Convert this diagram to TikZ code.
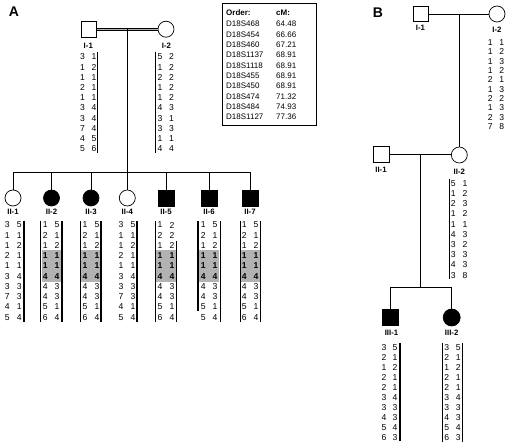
\documentclass[tikz,border=0pt]{standalone}
\usepackage{fontspec}
\setmainfont{Liberation Sans}
\usetikzlibrary{calc}
\definecolor{hapgray}{RGB}{178,178,178}
\tikzset{
  hap/.style={inner sep=0pt, font=\fontsize{8.6}{9}\selectfont, anchor=center},
  leg/.style={inner sep=0pt, font=\fontsize{8}{8}\selectfont, anchor=west},
  lbl/.style={inner sep=0pt, font=\fontsize{7.8}{8}\selectfont\bfseries},
  panel/.style={inner sep=0pt, font=\fontsize{14}{14}\selectfont\bfseries},
  sq/.style={draw, rectangle, minimum size=16pt, inner sep=0pt, line width=0.7pt, fill=white},
  ci/.style={draw, circle, minimum size=16pt, inner sep=0pt, line width=0.7pt, fill=white},
  aff/.style={fill=black},
  ped/.style={line width=0.7pt},
  hbar/.style={line width=1.1pt},
  shade/.style={fill=hapgray, draw=none},
}
\newcommand{\hapset}[7]{%
  \foreach \a/\b [count=\i] in {#7} {
    \node[hap] (#1-\i-a) at ({#2-#3},{#4+(\i-1)*#5}) {\ifnum#6=1 \ifnum\i>3 \ifnum\i<7 \bfseries\fi\fi\fi\a};
    \node[hap] (#1-\i-b) at ({#2+#3},{#4+(\i-1)*#5}) {\ifnum#6=1 \ifnum\i>3 \ifnum\i<7 \bfseries\fi\fi\fi\b};
  }}
\begin{document}
\begin{tikzpicture}[x=1pt,y=-1pt]
\useasboundingbox (0,0) rectangle (509,446);
% ================= Panel A =================
\node[panel] (labA) at (14,12) {A};
\node[sq, minimum size=15.5pt] (AI1) at (89,29.5) {};
\node[ci] (AI2) at (166,29.2) {};
\node[lbl] (AI1l) at (88.3,45.5) {I-1};
\node[lbl] (AI2l) at (166.5,45.5) {I-2};
\fill[gray!60] (AI1.east |- 0,28.4) rectangle (AI2.west |- 0,30.4);
\draw[line width=0.6pt] ([yshift=1.1pt]AI1.east) -- ([yshift=1.1pt]AI1.east -| AI2.west);
\draw[line width=0.6pt] ([yshift=-1.1pt]AI1.east) -- ([yshift=-1.1pt]AI1.east -| AI2.west);
\coordinate (mA) at (127.3,29.5);
\coordinate (sA) at (127.3,172);
\draw[ped] (mA) -- (sA);
% parents haplotypes
\hapset{hI1}{88.3}{5.7}{57}{10.2}{0}{3/1,1/2,1/1,2/1,1/1,3/4,3/4,7/4,4/5,5/6}
\draw[hbar] (97.7,52) -- (97.7,153);
\hapset{hI2}{165.8}{5.8}{57}{10.2}{0}{5/2,1/2,2/2,1/2,1/2,4/3,3/1,3/3,1/1,4/4}
\draw[hbar] (155.5,52) -- (155.5,153);
% legend box
\draw[line width=0.7pt] (222,3) rectangle (316,125);
\node[leg, font=\fontsize{8}{8}\selectfont\bfseries] (lord) at (226,13) {Order:};
\node[leg, font=\fontsize{8}{8}\selectfont\bfseries] (lcm) at (276,13) {cM:};
\foreach \n/\v [count=\i] in {D18S468/64.48,D18S454/66.66,D18S460/67.21,D18S1137/68.91,D18S1118/68.91,D18S455/68.91,D18S450/68.91,D18S474/71.32,D18S484/74.93,D18S1127/77.36} {
  \node[leg] (ln\i) at (226,{24+(\i-1)*10.33}) {\n};
  \node[leg] (lv\i) at (276,{24+(\i-1)*10.33}) {\v};
}
% generation II symbols
\node[ci] (AII1) at (13,198) {};
\node[ci, aff] (AII2) at (51.5,198) {};
\node[ci, aff] (AII3) at (91,198) {};
\node[ci] (AII4) at (127.3,198) {};
\node[sq, aff] (AII5) at (166,198) {};
\node[sq, aff] (AII6) at (209,198) {};
\node[sq, aff] (AII7) at (250,198) {};
\draw[ped] (sA -| AII1) -- (sA -| AII7);
\foreach \k in {1,...,7} { \draw[ped] (sA -| AII\k) -- (AII\k.north); }
\foreach \k/\x in {1/13,2/51.5,3/91,4/127.3,5/166,6/209,7/250} {
  \node[lbl] (AII\k l) at (\x,212) {II-\k};
}
% shading
\foreach \x in {51.5,91,166,209,250} { \fill[shade] ({\x-9.6},250.5) rectangle ({\x+9.6},282); }
% haplotypes generation II
\hapset{hII1}{13.3}{6}{225}{10.25}{0}{3/5,1/1,1/2,2/1,1/1,3/4,3/3,7/3,4/1,5/4}
\draw[hbar] (24,221) -- (24,322);
\hapset{hII2}{51.2}{5.9}{225}{10.25}{1}{1/5,2/1,1/2,1/1,1/1,4/4,4/3,4/3,5/1,6/4}
\draw[hbar] (40.7,221) -- (40.7,322);
\draw[hbar] (62,221) -- (62,322);
\hapset{hII3}{91}{5.9}{225}{10.25}{1}{1/5,2/1,1/2,1/1,1/1,4/4,4/3,4/3,5/1,6/4}
\draw[hbar] (80.7,221) -- (80.7,322);
\draw[hbar] (101,221) -- (101,322);
\hapset{hII4}{127}{6}{225}{10.25}{0}{3/5,1/1,1/2,2/1,1/1,3/4,3/3,7/3,4/1,5/4}
\draw[hbar] (137,221) -- (137,322);
\hapset{hII5}{166}{5.9}{225}{10.25}{1}{1/2,2/2,1/2,1/1,1/1,4/4,4/3,4/3,5/1,6/4}
\draw[hbar] (155.5,221) -- (155.5,322);
\draw[hbar] (176.5,241) -- (176.5,322);
\hapset{hII6}{209.2}{5.9}{225}{10.25}{1}{1/5,2/1,1/2,1/1,1/1,4/4,4/3,4/3,5/1,5/4}
\draw[hbar] (198,221) -- (198,311);
\draw[hbar] (220.3,221) -- (220.3,322);
\hapset{hII7}{250.2}{5.9}{225}{10.25}{1}{1/5,2/1,1/2,1/1,1/1,4/4,4/3,4/3,5/1,6/4}
\draw[hbar] (240.5,221) -- (240.5,322);
\draw[hbar] (260.7,221) -- (260.7,322);
% ================= Panel B =================
\node[panel] (labB) at (378,13) {B};
\node[sq, minimum size=15pt] (BI1) at (420.5,14) {};
\node[ci] (BI2) at (497,14) {};
\node[lbl] (BI1l) at (420.5,27.5) {I-1};
\node[lbl] (BI2l) at (497,30) {I-2};
\draw[ped] (BI1.east) -- (BI2.west);
\hapset{hBI2}{496}{5.8}{42.7}{9.3}{0}{1/1,1/2,1/3,1/2,2/1,1/3,2/2,1/3,2/3,7/8}
\node[sq] (BII1) at (381,154) {};
\node[ci] (BII2) at (459.3,155) {};
\coordinate (mB1) at (459.3,14);
\draw[ped] (mB1) -- (BII2.north);
\draw[ped] (BII1.east) -- (BII1.east -| BII2.west);
\node[lbl] (BII1l) at (381,170) {II-1};
\node[lbl] (BII2l) at (459.3,172) {II-2};
\hapset{hBII2}{459.2}{5.9}{183.3}{10.2}{0}{5/1,1/2,2/3,1/2,1/1,4/3,3/2,3/3,4/3,3/8}
\draw[hbar] (449.5,179) -- (449.5,279);
\coordinate (mB2) at (420.7,154);
\coordinate (sB) at (420.7,287.5);
\draw[ped] (mB2) -- (sB);
\node[sq, aff] (BIII1) at (390,317.5) {};
\node[ci, aff, minimum size=17pt] (BIII2) at (451.7,317.5) {};
\draw[ped] (sB -| BIII1) -- (sB -| BIII2);
\draw[ped] (sB -| BIII1) -- (BIII1.north);
\draw[ped] (sB -| BIII2) -- (BIII2.north);
\node[lbl] (BIII1l) at (391.5,333) {III-1};
\node[lbl] (BIII2l) at (451.7,333) {III-2};
\hapset{hBIII1}{389.5}{5.6}{347.5}{9.95}{0}{3/5,2/1,1/2,2/1,2/1,3/4,3/3,4/3,5/4,6/3}
\draw[hbar] (400,343) -- (400,441);
\hapset{hBIII2}{452.5}{5.8}{348}{9.95}{0}{3/5,2/1,1/2,2/1,2/1,3/4,3/3,4/3,5/4,6/3}
\draw[hbar] (442.3,343) -- (442.3,442);
\draw[hbar] (462.7,343) -- (462.7,442);
\end{tikzpicture}
\end{document}
